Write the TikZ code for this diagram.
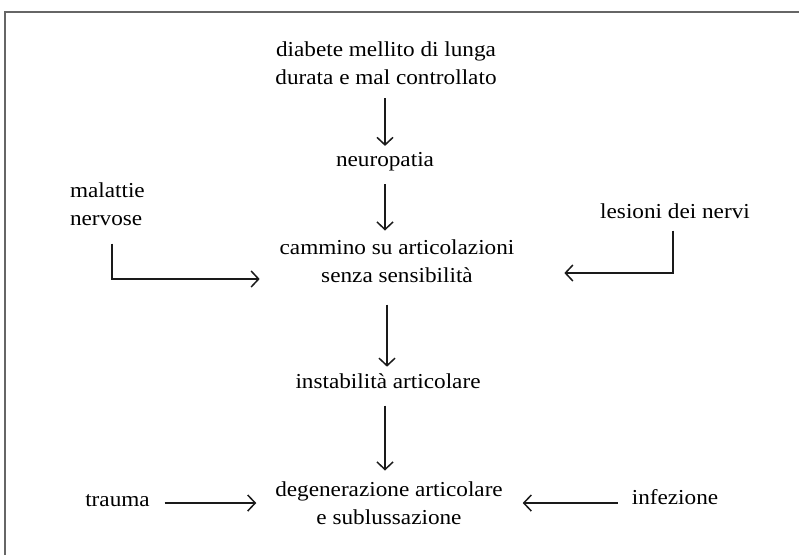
\documentclass[tikz,border=0pt]{standalone}
\usepackage{fontspec}
\setmainfont{Liberation Serif}[FakeStretch=1.09]
\usetikzlibrary{arrows.meta,calc}
\definecolor{framegray}{HTML}{666666}
\definecolor{arrowdark}{HTML}{1A1A1A}
\tikzset{
  lbl/.style={inner sep=0pt, outer sep=0pt, text=black, font=\fontsize{21.3}{28}\selectfont},
  arr/.style={draw=arrowdark, line width=2.5pt,
    -{Straight Barb[length=7.5pt,width=16pt,line width=1.5pt]}},
  framestyle/.style={draw=framegray, line width=1.7pt}
}
\begin{document}
\begin{tikzpicture}[x=1pt,y=-1pt]
\useasboundingbox (0,0) rectangle (799,555);
\fill[white] (0,0) rectangle (799,555);
% frame
\coordinate (fa) at (5,555);
\coordinate (fb) at (5,12);
\coordinate (fc) at (802,12);
\draw[framestyle] (fa) -- (fb) -- (fc);
% columns
\coordinate (col) at (385,0);
\coordinate (colb) at (387,0);
\coordinate (L) at (112,0);
\coordinate (R) at (673,0);
% nodes
\node[lbl, align=center] (top) at (386,63) {diabete mellito di lunga\\durata e mal controllato};
\node[lbl, anchor=base] (neuro) at (385,166) {neuropatia};
\node[lbl, align=center] (cam) at (397,261) {cammino su articolazioni\\senza sensibilità};
\node[lbl, align=left, anchor=west] (mal) at (70,204) {malattie\\nervose};
\node[lbl, anchor=base] (les) at (675,218) {lesioni dei nervi};
\node[lbl, anchor=base] (inst) at (388,388) {instabilità articolare};
\node[lbl, align=center] (deg) at (389,503) {degenerazione articolare\\e sublussazione};
\node[lbl, anchor=base] (tr) at (117.5,506) {trauma};
\node[lbl, anchor=base] (inf) at (675,504) {infezione};
% connectors
\draw[arr] ($(top.south -| col)+(0,14)$) -- ($(neuro.north -| col)+(0,-6)$);
\draw[arr] ($(neuro.south -| col)+(0,13.5)$) -- ($(cam.north -| col)+(0,-9)$);
\draw[arr] ($(cam.south -| colb)+(0,22)$) -- ($(inst.north -| colb)+(0,-6.5)$);
\draw[arr] ($(inst.south -| col)+(0,17.5)$) -- ($(deg.north -| col)+(0,-11)$);
\draw[arr] ($(mal.south -| L)+(0,18)$) |- ($(cam.west)+(-20,18)$);
\draw[arr] ($(les.south -| R)+(0,12.5)$) |- ($(cam.east)+(50,12)$);
\draw[arr] ($(tr.base east)+(15,-3)$) -- ($(tr.base east -| deg.west)+(-19,-3)$);
\draw[arr] ($(inf.base west)+(-14,-1)$) -- ($(inf.base west -| deg.east)+(20,-1)$);
\end{tikzpicture}
\end{document}
